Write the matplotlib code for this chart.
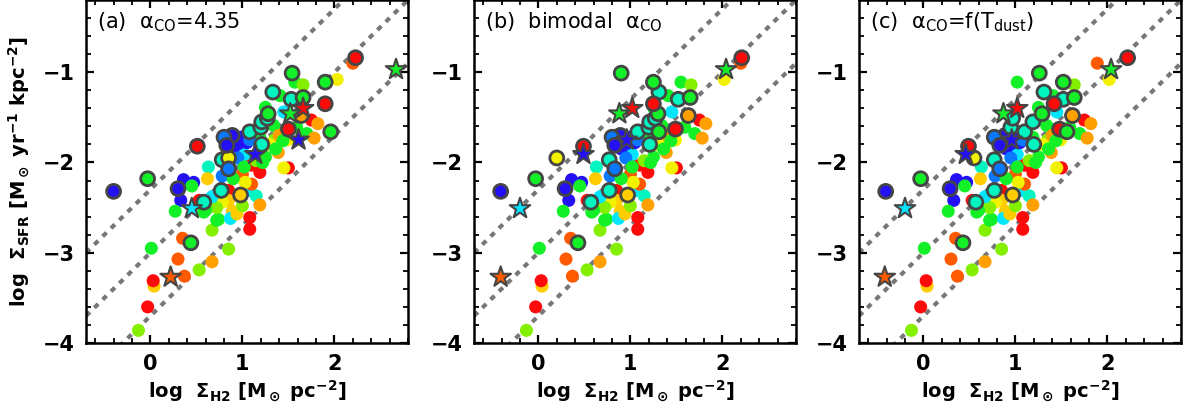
import numpy as np
import matplotlib
matplotlib.use('Agg')
import matplotlib.pyplot as plt
from matplotlib.ticker import MultipleLocator

plt.rcParams['font.family'] = ['DejaVu Sans']
plt.rcParams['mathtext.default'] = 'regular'

# one entry per galaxy; y is shared, x depends on the alpha_CO choice
log_sfr = [-2.32, -2.18, -1.82, -2.29, -2.19, -2.22, -2.42, -2.26, -2.54, -2.51,
           -2.44, -2.42, -2.55, -2.84, -2.89, -2.95, -3.07, -3.27, -3.26, -3.37,
           -3.31, -3.60, -3.86, -3.19, -3.10, -2.96, -2.75, -2.63, -2.50, -2.05,
           -2.18, -2.15, -1.97, -1.95, -2.07, -2.31, -2.31, -2.42, -2.36, -2.54,
           -2.44, -2.62, -2.57, -2.48, -2.31, -2.37, -2.47, -2.61, -2.74, -2.24,
           -2.03, -2.11, -2.13, -2.22, -2.18, -2.50, -2.64, -2.38, -2.53, -1.91,
           -1.91, -1.94, -1.80, -1.72, -1.66, -1.72, -1.79, -1.78, -1.70, -1.72,
           -1.81, -1.75, -1.85, -1.61, -1.55, -1.51, -1.46, -1.39, -1.22, -1.26,
           -1.01, -1.11, -1.14, -1.30, -1.28, -1.40, -1.46, -1.48, -1.44, -1.53,
           -1.57, -1.63, -1.61, -1.68, -1.75, -1.73, -1.75, -1.89, -2.06, -2.06,
           -1.11, -1.08, -1.35, -1.66, -0.84, -0.90, -0.97, -1.59, -1.75, -1.80,
           -1.85, -1.70, -1.76, -1.98, -2.00, -1.95, -2.05]

log_h2_a = [-0.40, -0.03, 0.51, 0.30, 0.36, 0.47, 0.33, 0.45, 0.27, 0.45,
            0.58, 0.53, 0.58, 0.35, 0.44, 0.01, 0.30, 0.22, 0.37, 0.04,
            0.03, -0.03, -0.13, 0.53, 0.67, 0.85, 0.67, 0.74, 0.62, 0.63,
            0.62, 0.78, 0.78, 0.85, 0.85, 0.77, 0.85, 0.85, 0.98, 0.89,
            0.78, 0.87, 0.94, 1.00, 1.07, 1.15, 1.19, 1.08, 1.08, 1.10,
            1.10, 1.19, 1.00, 1.03, 0.90, 0.72, 0.72, 0.67, 0.60, 1.14,
            1.02, 1.25, 1.21, 1.19, 1.08, 0.99, 0.96, 1.05, 0.89, 0.80,
            0.83, 1.08, 0.90, 1.20, 1.21, 1.27, 1.28, 1.25, 1.33, 1.41,
            1.54, 1.57, 1.66, 1.53, 1.66, 1.66, 1.52, 1.64, 1.45, 1.75,
            1.82, 1.50, 1.59, 1.70, 1.61, 1.78, 1.49, 1.39, 1.50, 1.45,
            1.90, 2.03, 1.90, 1.96, 2.23, 2.20, 2.67, 1.34, 1.35, 1.30,
            1.36, 1.40, 1.44, 1.15, 1.22, 0.95, 1.02]

log_h2_b = [-0.41, -0.03, 0.49, 0.29, 0.36, 0.47, 0.33, 0.45, 0.27, -0.20,
            0.57, 0.53, 0.58, 0.35, 0.43, 0.01, 0.30, -0.41, 0.37, 0.04,
            0.03, -0.03, -0.13, 0.53, 0.67, 0.85, 0.67, 0.74, 0.62, 0.63,
            0.62, 0.78, 0.77, 0.20, 0.83, 0.77, 0.85, 0.85, 0.97, 0.89,
            0.78, 0.87, 0.94, 1.00, 1.07, 1.15, 1.19, 1.08, 1.08, 1.10,
            1.10, 1.19, 1.00, 1.03, 0.90, 0.72, 0.72, 0.67, 0.60, 0.49,
            1.02, 1.25, 1.21, 1.19, 1.08, 0.99, 0.96, 1.05, 0.89, 0.80,
            0.83, 1.08, 0.90, 1.20, 1.21, 1.27, 1.30, 1.25, 1.31, 1.41,
            0.90, 1.55, 1.66, 1.52, 1.65, 1.02, 0.88, 1.63, 1.45, 1.75,
            1.82, 1.49, 1.59, 1.70, 0.96, 1.78, 1.49, 1.39, 1.50, 1.45,
            1.25, 2.02, 1.25, 1.31, 2.21, 2.20, 2.04, 1.34, 1.35, 1.30,
            1.36, 1.40, 1.44, 1.15, 1.22, 0.95, 1.02]

log_h2_c = [-0.41, -0.03, 0.49, 0.29, 0.36, 0.47, 0.33, 0.45, 0.27, -0.20,
            0.57, 0.53, 0.58, 0.35, 0.43, 0.01, 0.30, -0.42, 0.37, 0.04,
            0.03, -0.03, -0.13, 0.53, 0.67, 0.85, 0.67, 0.74, 0.62, 0.63,
            0.62, 0.78, 0.77, 0.55, 0.83, 0.77, 0.85, 0.85, 0.97, 0.89,
            0.78, 0.87, 0.94, 1.00, 1.07, 1.15, 1.19, 1.08, 1.08, 1.10,
            1.10, 1.19, 1.00, 1.03, 0.90, 0.72, 0.72, 0.67, 0.60, 0.46,
            1.02, 1.25, 1.20, 1.19, 1.10, 0.99, 0.96, 1.05, 0.89, 0.77,
            0.83, 1.08, 0.90, 0.95, 1.19, 0.97, 1.29, 1.25, 1.31, 1.41,
            1.26, 1.02, 1.64, 1.52, 1.64, 1.02, 0.87, 1.62, 1.45, 1.75,
            1.82, 1.48, 1.59, 1.70, 0.96, 1.78, 1.49, 1.39, 1.50, 1.45,
            1.52, 2.02, 1.42, 1.56, 2.22, 1.89, 2.04, 1.34, 1.35, 1.30,
            1.36, 1.40, 1.44, 1.15, 1.22, 0.95, 1.02]

colour = ['b', 'g', 'r', 'b', 'b', 'b', 'b', 'g', 'g', 'c',
          'aq', 'r', 'g', 'or', 'g', 'g', 'or', 'or', 'or', 'go',
          'r', 'r', 'lg', 'lg', 'o', 'lg', 'lg', 'g', 'lg', 'aq',
          'go', 'db', 'aq', 'y', 'db', 'aq', 'r', 'go', 'go', 'go',
          'y', 'c', 'go', 'lg', 'c', 'aq', 'o', 'r', 'r', 'or',
          'r', 'r', 'or', 'y', 'g', 'lg', 'g', 'c', 'g', 'b',
          'c', 'g', 'aq', 'g', 'aq', 'b', 'b', 'b', 'b', 'db',
          'b', 'db', 'b', 'aq', 'aq', 'aq', 'g', 'g', 'aq', 'g',
          'g', 'g', 'lg', 'aq', 'g', 'r', 'g', 'o', 'c', 'r',
          'o', 'r', 'g', 'g', 'b', 'o', 'y', 'o', 'r', 'y',
          'g', 'y', 'r', 'g', 'r', 'or', 'g', 'g', 'lg', 'y',
          'g', 'o', 'g', 'lg', 'g', 'db', 'g']

# n = plain dot, e = outlined dot, s = star
kind = ['e', 'e', 'e', 'e', 'n', 'n', 'n', 'n', 'n', 's',
        'e', 'n', 'n', 'n', 'e', 'n', 'n', 's', 'n', 'n',
        'n', 'n', 'n', 'n', 'n', 'n', 'n', 'n', 'n', 'n',
        'n', 'n', 'e', 'e', 'e', 'e', 'n', 'n', 'e', 'n',
        'n', 'n', 'n', 'n', 'n', 'n', 'n', 'n', 'n', 'n',
        'n', 'n', 'n', 'n', 'n', 'n', 'n', 'n', 'n', 's',
        'n', 'n', 'e', 'n', 'e', 'n', 'n', 'n', 'e', 'e',
        'e', 'n', 'n', 'e', 'e', 'e', 'e', 'n', 'e', 'n',
        'e', 'n', 'n', 'e', 'e', 's', 's', 'e', 'n', 'n',
        'n', 'e', 'n', 'n', 's', 'n', 'n', 'n', 'n', 'n',
        'e', 'n', 'e', 'e', 'e', 'n', 's', 'n', 'n', 'n',
        'n', 'n', 'n', 'n', 'n', 'n', 'n']

panel_labels = [r'(a)  $\alpha_{CO}$=4.35',
                r'(b)  bimodal  $\alpha_{CO}$',
                r'(c)  $\alpha_{CO}$=f(T$_{dust}$)']

# depletion-time lines, log yr
log_tdep = [8.3, 9.0, 9.7]

palette = {
    'b': '#2410f5', 'db': '#0a78ff', 'c': '#00e6ff', 'aq': '#00f5c0',
    'g': '#14f028', 'lg': '#84f000', 'y': '#f2f200', 'go': '#ffcc00',
    'o': '#ffa000', 'or': '#ff5a00', 'r': '#ff0a0a',
}
edge = '#454545'

fig = plt.figure(figsize=(11.85, 4.17), dpi=100)
lefts = [86, 474, 859]
xs_all = [log_h2_a, log_h2_b, log_h2_c]

y = np.array(log_sfr)
cols = np.array([palette[c] for c in colour])
kinds = np.array(kind)

for i, (left, xv) in enumerate(zip(lefts, xs_all)):
    ax = fig.add_axes([left / 1185, 74 / 417, 322 / 1185, 343 / 417])
    x = np.array(xv)
    ax.set_xlim(-0.7, 2.8)
    ax.set_ylim(-4.0, -0.2)

    xl = np.array([-0.7, 2.8])
    for t in log_tdep:
        ax.plot(xl, xl + 6 - t, color='#777777', lw=3.0,
                linestyle=(0, (1.3, 1.5)), dash_capstyle='butt', zorder=1)

    m = kinds == 'n'
    ax.scatter(x[m], y[m], s=88, c=cols[m], edgecolors='none', zorder=2)
    m = kinds == 'e'
    ax.scatter(x[m], y[m], s=100, c=cols[m], edgecolors=edge, linewidths=2.0, zorder=3)
    m = kinds == 's'
    ax.scatter(x[m], y[m], s=240, c=cols[m], marker='*', edgecolors=edge,
               linewidths=1.5, zorder=4)

    ax.xaxis.set_major_locator(MultipleLocator(1))
    ax.xaxis.set_minor_locator(MultipleLocator(0.2))
    ax.yaxis.set_major_locator(MultipleLocator(1))
    ax.yaxis.set_minor_locator(MultipleLocator(0.2))
    ax.tick_params(which='both', direction='in', top=True, right=True)
    ax.tick_params(which='major', length=6, width=1.6, labelsize=15, pad=8)
    ax.tick_params(which='minor', length=3.5, width=1.3)
    for lab in ax.get_xticklabels() + ax.get_yticklabels():
        lab.set_fontweight('bold')
    for sp in ax.spines.values():
        sp.set_linewidth(1.8)

    ax.set_xlabel(r'log  $\Sigma_{H2}$ [M$_\odot$ pc$^{-2}$]', fontsize=14,
                  fontweight='bold', labelpad=3)
    if i == 0:
        ax.set_ylabel(r'log  $\Sigma_{SFR}$ [M$_\odot$ yr$^{-1}$ kpc$^{-2}$]',
                      fontsize=14, fontweight='bold', labelpad=8)
    ax.text(0.034, 0.935, panel_labels[i], transform=ax.transAxes,
            fontsize=15, va='center', ha='left')

fig.savefig('out.png', dpi=100)
